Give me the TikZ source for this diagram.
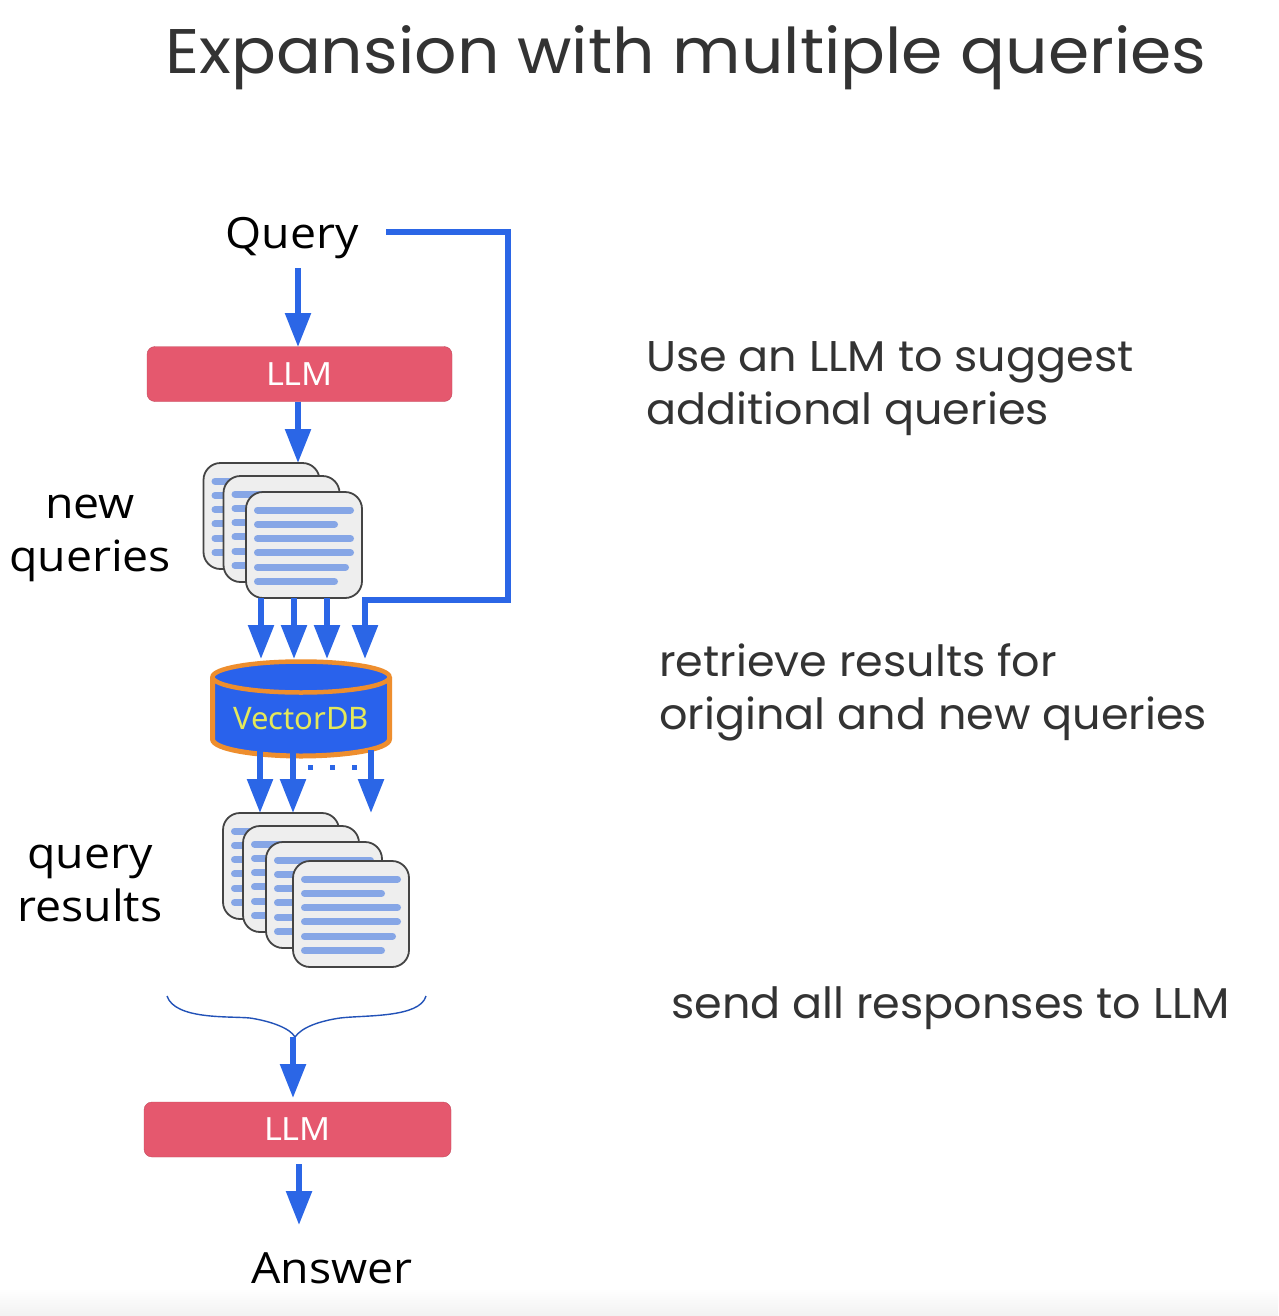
\documentclass[tikz,border=0pt]{standalone}
\usepackage{fontspec}
\setmainfont{Poppins}
\newfontfamily\titlefont[FakeStretch=1.055]{Poppins}
\newfontfamily\notefont[FakeStretch=1.035]{Poppins}
\newfontfamily\labelfont[FakeStretch=1.08]{Open Sans}
\newfontfamily\boxfont[FakeStretch=1.07]{Noto Sans}
\newfontfamily\dbfont{Noto Sans}
\usetikzlibrary{arrows.meta,calc}
\definecolor{flow}{HTML}{2B66E6}
\definecolor{dbblue}{HTML}{2962EC}
\definecolor{llmred}{HTML}{E5586E}
\definecolor{cardfill}{HTML}{EEEEEE}
\definecolor{cardline}{HTML}{444444}
\definecolor{bar}{HTML}{86A6E6}
\definecolor{dborange}{HTML}{EE8E2E}
\definecolor{dbtext}{HTML}{E4E85A}
\definecolor{ink}{HTML}{333333}
\definecolor{floor}{HTML}{F2F2F2}
\tikzset{
  flowarrow/.style={draw=flow,line width=5.6pt,shorten >=-2pt,-{Triangle[length=34pt,width=25pt]}},
  llmbox/.style={fill=llmred,draw=llmred!85!black,line width=.4pt,rounded corners=8pt,minimum height=55pt,inner sep=0pt,outer sep=0pt,text=white,font=\boxfont\fontsize{32}{32}\selectfont},
  cardbox/.style={draw=cardline,line width=1.8pt,fill=cardfill,rounded corners=17pt,minimum width=116pt,minimum height=106pt,anchor=north west,inner sep=0pt,outer sep=0pt},
  barline/.style={draw=bar,line width=7pt,line cap=round},
  title/.style={anchor=base west,inner sep=0pt,text=ink,font=\titlefont\fontsize{63}{63}\selectfont},
  note/.style={anchor=base west,inner sep=0pt,text=ink,font=\notefont\fontsize{43}{43}\selectfont},
  side/.style={anchor=base,inner sep=0pt,text=black,font=\labelfont\fontsize{43}{43}\selectfont}
}
% name, left, top
\newcommand{\docard}[3]{%
  \node[cardbox] (#1) at (#2,#3) {};
  \foreach \k/\w in {0/100,1/84,2/100,3/100,4/95,5/84}{
    \draw[barline] ($(#2+11.5,#3+18+14.3*\k)$) -- ++(\w-7,0);
  }
}
\begin{document}
\begin{tikzpicture}[x=1pt,y=-1pt]
\useasboundingbox (0,0) rectangle (1278,1316);
\fill[white] (0,0) rectangle (1278,1316);
\shade[top color=white,bottom color=floor] (0,1288) rectangle (1278,1316);
\node[title] (t) at (165,74) {Expansion with multiple queries};
\node[side] (query) at (292,248) {Query};
\node[llmbox,minimum width=305pt] (llm1) at (299.5,374) {LLM};
\draw[flowarrow] (298,268) -- (298,345);
\draw[flowarrow] (llm1.south -| 298,0) -- (298,461);
\docard{c1}{203.5}{463}
\docard{c2}{223.5}{476}
\docard{c3}{246}{492}
\node[side] (nq1) at (90,518) {new};
\node[side] (nq2) at (90,571) {queries};
\coordinate (d1) at (261,657);
\coordinate (d2) at (294,657);
\coordinate (d3) at (327,657);
\coordinate (d4) at (365,657);
\foreach \n in {d1,d2,d3}{\draw[flowarrow] (c3.south -| \n) -- (\n);}
\coordinate (qe) at (386,232);
\draw[flowarrow] (qe) -- (508,232) -- (508,600) -- (365,600) -- (d4);
% database
\draw[line width=5pt,draw=dborange,fill=dbblue] (212.5,677) -- (212.5,739) .. controls (212.5,750) and (260,756) .. (301,756) .. controls (342,756) and (389.5,750) .. (389.5,739) -- (389.5,677);
\filldraw[line width=4.5pt,draw=dborange,fill=dbblue] (301,677) ellipse [x radius=88.5,y radius=15.5];
\node[anchor=base,inner sep=0pt,text=dbtext,font=\dbfont\fontsize{31}{31}\selectfont] (dbl) at (301,729) {VectorDB};
\coordinate (r1) at (260,811);
\coordinate (r2) at (293,811);
\coordinate (r3) at (371,811);
\foreach \n in {r1,r2,r3}{\draw[flowarrow] (\n |- 0,750) -- (\n);}
\foreach \n in {310,332,354}{\fill[flow] (\n-2.5,764.5) rectangle (\n+2.5,769.5);}
\docard{q1}{223}{813}
\docard{q2}{243}{826}
\docard{q3}{266}{842}
\docard{q4}{293}{861}
\node[side] (qr1) at (90,868) {query};
\node[side] (qr2) at (90,921) {results};
% brace
\coordinate (bl) at (167,996);
\coordinate (br) at (426,996);
\coordinate (bm) at (295,1037);
\draw[flow!80!black,line width=1.4pt] (bl) .. controls (175,1020) and (230,1016) .. (250,1018) .. controls (270,1021) and (290,1028) .. (bm);
\draw[flow!80!black,line width=1.4pt] (br) .. controls (420,1018) and (365,1015) .. (340,1018) .. controls (320,1021) and (302,1027) .. (bm);
\node[llmbox,minimum width=307pt] (llm2) at (297.5,1129.5) {LLM};
\draw[flowarrow] (293,1037) -- (293,1096);
\coordinate (ans) at (299,1223);
\draw[flowarrow] (299,1164) -- (ans);
\node[side] (answer) at (332,1283) {Answer};
\node[note] (n1) at (646,371) {Use an LLM to suggest};
\node[note] (n2) at (646,424) {additional queries};
\node[note] (n3) at (659,676) {retrieve results for};
\node[note] (n4) at (659,729) {original and new queries};
\node[note] (n5) at (671,1018) {send all responses to LLM};
\end{tikzpicture}
\end{document}
